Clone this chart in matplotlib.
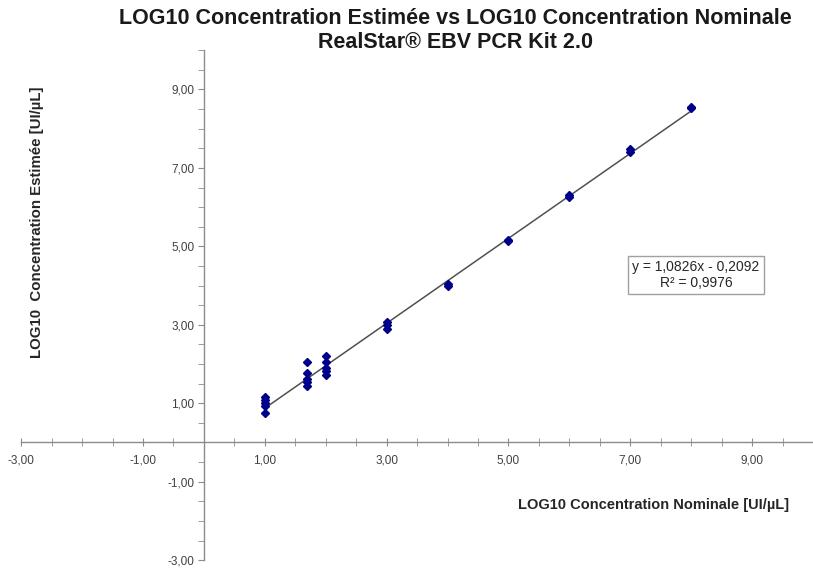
import matplotlib.pyplot as plt
import numpy as np
from matplotlib.ticker import MultipleLocator, FuncFormatter

plt.rcParams['font.family'] = ['Liberation Sans', 'DejaVu Sans']

# données (LOG10 nominale / LOG10 estimée)
x_nominal = [1, 1, 1, 1, 1,
             1.7, 1.7, 1.7, 1.7, 1.7,
             2, 2, 2, 2, 2,
             3, 3, 3,
             4, 4,
             5, 5,
             6, 6,
             7, 7,
             8, 8]
y_estime = [1.17, 1.08, 1.00, 0.92, 0.76,
            2.04, 1.78, 1.63, 1.53, 1.45,
            2.21, 2.04, 1.91, 1.81, 1.73,
            3.08, 2.99, 2.90,
            4.04, 4.00,
            5.16, 5.13,
            6.30, 6.26,
            7.47, 7.41,
            8.56, 8.53]

pente = 1.0826
ordonnee = -0.2092
r2 = 0.9976

fig = plt.figure(figsize=(8.13, 5.71), dpi=100)
ax = fig.add_axes([0.026, 0.019, 0.974, 0.893])

xs = np.array([min(x_nominal), max(x_nominal)])
ax.plot(xs, pente * xs + ordonnee, color='#505050', linewidth=1.1, zorder=2)
ax.plot(x_nominal, y_estime, linestyle='none', marker='D', markersize=4.2,
        color='#00008B', zorder=3)

ax.set_xlim(-3, 10)
ax.set_ylim(-3, 10)

# axes croisés à zéro
ax.spines['left'].set_position(('data', 0))
ax.spines['bottom'].set_position(('data', 0))
ax.spines['top'].set_visible(False)
ax.spines['right'].set_visible(False)
for s in ('left', 'bottom'):
    ax.spines[s].set_color('#8c8c8c')
    ax.spines[s].set_linewidth(1.0)

ax.xaxis.set_major_locator(MultipleLocator(2, offset=1))
ax.yaxis.set_major_locator(MultipleLocator(2, offset=1))
ax.xaxis.set_minor_locator(MultipleLocator(0.5))
ax.yaxis.set_minor_locator(MultipleLocator(0.5))

fmt = FuncFormatter(lambda v, p: f"{v:.2f}".replace('.', ','))
ax.xaxis.set_major_formatter(fmt)
ax.yaxis.set_major_formatter(fmt)

ax.tick_params(axis='x', which='both', direction='inout', length=6, color='#8c8c8c',
               labelsize=8.5, labelcolor='#404040', pad=6)
ax.tick_params(axis='y', which='both', direction='out', length=4, color='#8c8c8c',
               labelsize=8.5, labelcolor='#404040', pad=3)

# titre sur deux lignes
fig.text(0.56, 1 - 18 / 571, 'LOG10 Concentration Estimée vs LOG10 Concentration Nominale',
         fontsize=15.5, fontweight='bold', color='#1a1a1a', ha='center', va='center')
fig.text(0.56, 1 - 42 / 571, 'RealStar® EBV PCR Kit 2.0',
         fontsize=15.5, fontweight='bold', color='#1a1a1a', ha='center', va='center')

fig.text(0.045, 0.61, 'LOG10  Concentration Estimée [UI/µL]', rotation=90,
         fontsize=10.8, fontweight='bold', color='#262626', ha='center', va='center')
ax.text(9.6, -1.6, 'LOG10 Concentration Nominale [UI/µL]', fontsize=10.5,
        fontweight='bold', color='#262626', ha='right', va='center')

ax.text(8.08, 4.27, f"y = {pente:.4f}x - {abs(ordonnee):.4f}\nR² = {r2:.4f}".replace('.', ','),
        fontsize=10, color='#262626', ha='center', va='center', linespacing=1.1,
        bbox=dict(boxstyle='square,pad=0.3', fc='white', ec='#a0a0a0', lw=1))

fig.savefig('out.png', dpi=100)
